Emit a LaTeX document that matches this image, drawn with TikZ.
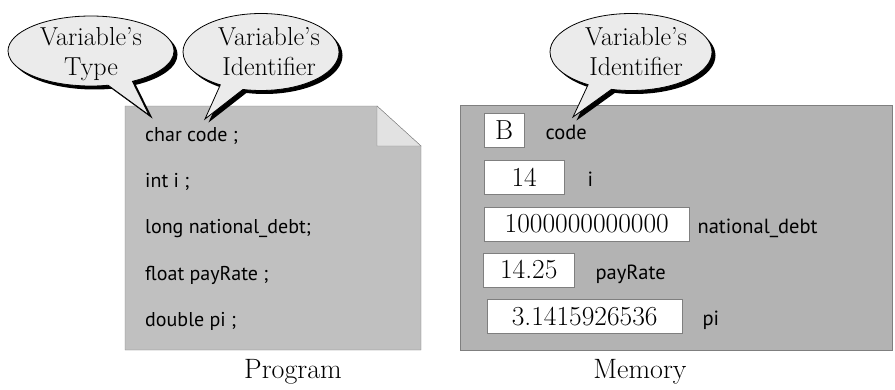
\documentclass[tikz,border=0pt]{standalone}
\usepackage{fontspec}
\setsansfont{PT Sans}
\usetikzlibrary{positioning,shapes.callouts,shadows}

\definecolor{sheetgray}{HTML}{C0C0C0}
\definecolor{memgray}{HTML}{B3B3B3}
\definecolor{bubblegray}{HTML}{EBEBEB}
\definecolor{edgegray}{HTML}{7F7F7F}
\definecolor{foldgray}{HTML}{E2E2E2}

\begin{document}
\begin{tikzpicture}[
  x=1pt, y=1pt,
  node distance=20pt,
  bubble/.style={ellipse callout, draw=black, fill=bubblegray, line width=0.8pt,
    callout pointer arc=18,
    drop shadow={fill=black, opacity=1, shadow xshift=3.5pt, shadow yshift=-3.5pt}},
  bubtext/.style={align=center, inner sep=0pt, font=\fontsize{26}{30}\selectfont},
  code/.style={anchor=base west, inner sep=0pt, font=\sffamily\fontsize{20}{24}\selectfont},
  cell/.style={draw=edgegray, fill=white, anchor=west, minimum height=34pt, inner sep=0pt,
    font=\fontsize{27.5}{30}\selectfont},
  varname/.style={inner sep=0pt, text height=18pt, text depth=0pt,
    font=\sffamily\fontsize{20.5}{24}\selectfont},
  caption/.style={anchor=base, font=\fontsize{28}{32}\selectfont}
]
\useasboundingbox (0,0) rectangle (895,-389);

% program sheet, top right corner folded over
\draw[edgegray, fill=sheetgray] (125,-106) -- (377,-106) -- (421,-146) -- (421,-350) -- (125,-350) -- cycle;
\draw[edgegray, fill=foldgray] (377,-106) -- (377,-146) -- (421,-146) -- cycle;

\node[code] (decl1) at (145,-141) {char code ;};
\node[code] (decl2) at (145,-187) {int i ;};
\node[code] (decl3) at (145,-233) {long national\_debt;};
\node[code] (decl4) at (145,-280) {float payRate ;};
\node[code] (decl5) at (145,-326) {double pi ;};
\node[caption] (progcap) at (293,-378) {Program};

% memory cells
\node[draw=edgegray, fill=memgray, minimum width=432pt, minimum height=245pt,
  anchor=north west, inner sep=0pt] (mem) at (460,-105) {};

\node[cell, minimum width=40pt] (cellB) at (484,-130.5) {B};
\node[varname, right=21pt of cellB] (nameB) {code};
\node[cell, minimum width=80pt] (cellI) at (484,-177) {14};
\node[varname, right=23pt of cellI] (nameI) {i};
\node[cell, minimum width=205pt] (cellD) at (484,-224) {1000000000000};
\node[varname, right=8pt of cellD] (nameD) {national\_debt};
\node[cell, minimum width=91pt] (cellR) at (483,-270) {14.25};
\node[varname, right=21pt of cellR] (nameR) {payRate};
\node[cell, minimum width=195pt] (cellP) at (487,-316.5) {3.1415926536};
\node[varname, right=20pt of cellP] (nameP) {pi};
\node[caption] (memcap) at (640,-378) {Memory};

% speech bubbles
\coordinate (typetip) at (149,-115);
\coordinate (idtip) at (205,-119);
\coordinate (memtip) at (573,-117);

\node[bubble, minimum width=166pt, minimum height=70pt, callout absolute pointer=(typetip)]
  (typebub) at (91,-51) {};
\node[bubtext] (typetxt) at (91,-54) {Variable's\\Type};

\node[bubble, minimum width=156pt, minimum height=77pt, callout absolute pointer=(idtip)]
  (idbub) at (261,-52) {};
\node[bubtext] (idtxt) at (269,-52) {Variable's\\Identifier};

\node[bubble, minimum width=162pt, minimum height=77pt, callout absolute pointer=(memtip)]
  (membub) at (631,-52) {};
\node[bubtext] (memtxt) at (636,-52) {Variable's\\Identifier};
\end{tikzpicture}
\end{document}
